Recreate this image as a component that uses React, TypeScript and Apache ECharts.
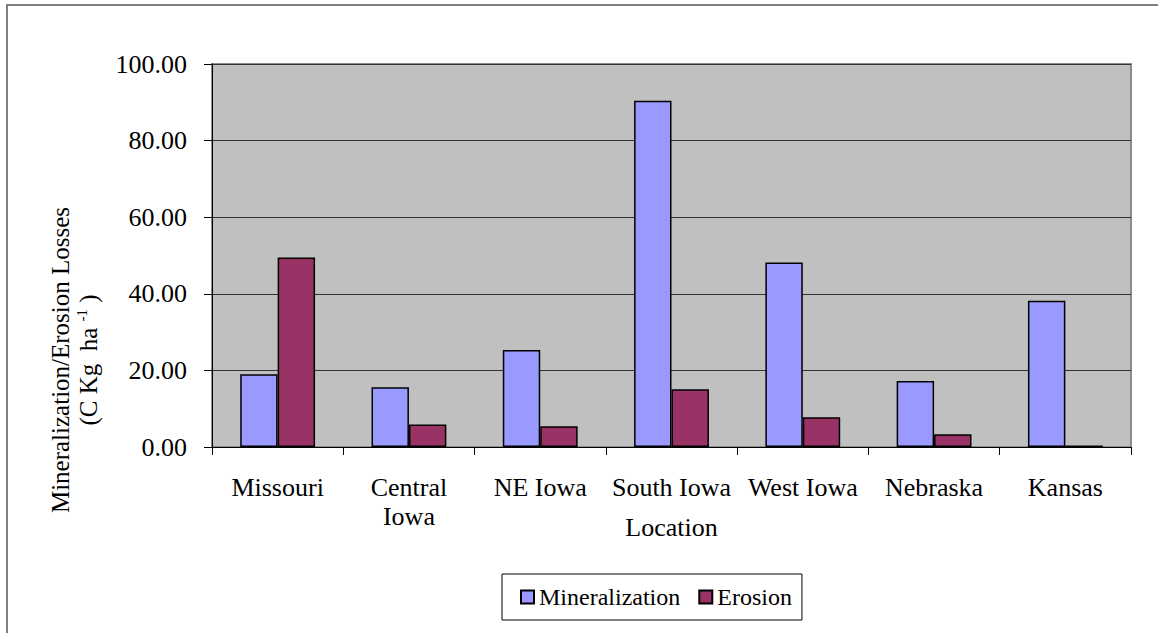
import React, { useEffect, useRef } from "react";
import * as echarts from "echarts";

const categories = ["Missouri", "Central\nIowa", "NE Iowa", "South Iowa", "West Iowa", "Nebraska", "Kansas"];
const mineralization = [19.0, 15.6, 25.3, 90.4, 48.2, 17.2, 38.2];
const erosion = [49.5, 5.9, 5.4, 15.1, 7.8, 3.3, 0.4];
const seriesNames = ["Mineralization", "Erosion"];
const yTicks = { min: 0, max: 100, interval: 20 };

const FONT = "Liberation Serif, Times New Roman, serif";

export default function App() {
  const ref = useRef<HTMLDivElement>(null);
  useEffect(() => {
    if (!ref.current) return;
    const chart = echarts.init(ref.current, undefined, { renderer: "svg" });
    chart.setOption({
      animation: false,
      backgroundColor: "#ffffff",
      textStyle: { fontFamily: FONT, color: "#000" },
      grid: {
        left: 212,
        right: 27,
        top: 64,
        bottom: 186,
        show: true,
        backgroundColor: "#C0C0C0",
        borderColor: "#8c8c8c",
        borderWidth: 2,
      },
      legend: {
        data: seriesNames,
        left: 502,
        top: 574,
        orient: "horizontal",
        icon: "rect",
        itemWidth: 13,
        itemHeight: 13,
        itemGap: 18,
        padding: [10, 10, 10, 18],
        borderColor: "#000",
        borderWidth: 1,
        textStyle: { fontFamily: FONT, fontSize: 24, color: "#000", lineHeight: 26 },
      },
      xAxis: {
        type: "category",
        data: categories,
        name: "Location",
        nameLocation: "middle",
        nameGap: 67,
        nameMoveOverlap: false,
        nameTextStyle: { fontFamily: FONT, fontSize: 26, color: "#000", verticalAlign: "top" },
        axisLine: { lineStyle: { color: "#000", width: 1 } },
        axisTick: { show: true, length: 8, alignWithLabel: false, lineStyle: { color: "#000" } },
        axisLabel: {
          interval: 0,
          margin: 26,
          fontFamily: FONT,
          fontSize: 26,
          lineHeight: 29,
          color: "#000",
        },
        splitLine: { show: false },
      },
      yAxis: {
        type: "value",
        min: yTicks.min,
        max: yTicks.max,
        interval: yTicks.interval,
        axisLine: { show: true, lineStyle: { color: "#000", width: 1 } },
        axisTick: { show: true, length: 8, lineStyle: { color: "#000" } },
        axisLabel: {
          margin: 25,
          fontFamily: FONT,
          fontSize: 26,
          color: "#000",
          formatter: (v: number) => v.toFixed(2),
        },
        splitLine: { show: true, lineStyle: { color: "#333", width: 1 } },
      },
      graphic: [
        {
          type: "rect",
          shape: { x: 7, y: 5, width: 1170, height: 650 },
          style: { fill: "none", stroke: "#808080", lineWidth: 2 },
          silent: true,
        },
        {
          type: "text",
          x: 74,
          y: 360,
          rotation: Math.PI / 2,
          style: {
            text: "{a|Mineralization/Erosion Losses}\n{a|(C Kg  ha }{sup|-1}{a| )}",
            align: "center",
            verticalAlign: "middle",
            fill: "#000",
            rich: {
              a: { fontFamily: FONT, fontSize: 25, lineHeight: 28, fill: "#000" },
              sup: { fontFamily: FONT, fontSize: 15, lineHeight: 28, verticalAlign: "top", fill: "#000" },
            },
          },
        },
      ],
      series: [
        {
          name: seriesNames[0],
          type: "bar",
          data: mineralization,
          barGap: "0%",
          barCategoryGap: "43%",
          itemStyle: { color: "#9999FF", borderColor: "#000", borderWidth: 1.5 },
        },
        {
          name: seriesNames[1],
          type: "bar",
          data: erosion,
          barGap: "0%",
          barCategoryGap: "43%",
          itemStyle: { color: "#993366", borderColor: "#000", borderWidth: 1.5 },
        },
      ],
    });
    return () => chart.dispose();
  }, []);
  return (
    <div
      ref={ref}
      style={{ position: "fixed", left: 0, top: 0, width: 1158, height: 633, background: "#fff" }}
    />
  );
}
